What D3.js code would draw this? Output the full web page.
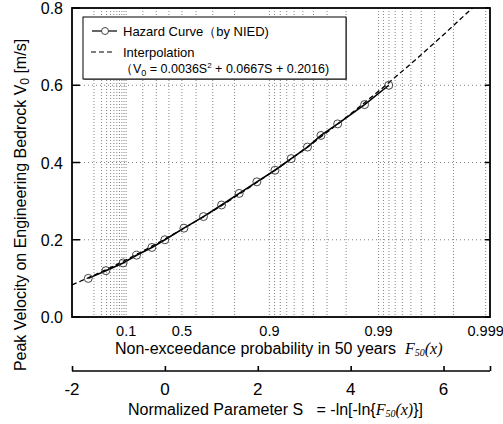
<!DOCTYPE html>
<html>
<head>
<meta charset="utf-8">
<script src="https://cdn.jsdelivr.net/npm/d3@7"></script>
<style>
  body { margin: 0; background: #fff; }
  svg { display: block; font-family: "Liberation Sans", Arial, sans-serif; }
</style>
</head>
<body>
<svg id="chart" width="503" height="424"></svg>
<script>
// hazard curve: S value and peak velocity V0
const hazardS = [-1.65, -1.27, -0.90, -0.61, -0.28, 0.00, 0.41, 0.83, 1.22, 1.60, 1.98, 2.37, 2.72, 3.07, 3.36, 3.72, 4.30, 4.82];
const hazardV = [0.10, 0.12, 0.14, 0.16, 0.18, 0.20, 0.23, 0.26, 0.29, 0.32, 0.35, 0.38, 0.41, 0.44, 0.47, 0.50, 0.55, 0.60];
// dashed interpolation line, read at a few S values
const interpS = [-2, -1, 0, 1, 2, 3, 4, 5, 6, 6.62];
const interpV = [0.083, 0.138, 0.202, 0.272, 0.350, 0.434, 0.526, 0.625, 0.731, 0.800];
// axis ticks
const yTicks = [0.0, 0.2, 0.4, 0.6, 0.8];
const sTicks = [-2, 0, 2, 4, 6];
const probLabels = [0.1, 0.5, 0.9, 0.99, 0.999];
const probGrid = [0.01, 0.02, 0.03, 0.04, 0.05, 0.06, 0.07, 0.08, 0.09, 0.1,
  0.2, 0.3, 0.4, 0.5, 0.6, 0.7, 0.8, 0.9,
  0.91, 0.92, 0.93, 0.94, 0.95, 0.96, 0.97, 0.98, 0.99,
  0.991, 0.992, 0.993, 0.994, 0.995, 0.996, 0.997, 0.998, 0.999];

const svg = d3.select("#chart");
const pLeft = 72, pRight = 490, pTop = 8, pBottom = 317;
const nb = "\u00a0";

const x = d3.scaleLinear().domain([-2, 7]).range([pLeft, pRight]);
const y = d3.scaleLinear().domain([0, 0.8]).range([pBottom, pTop]);
// probability -> normalized parameter S
const toS = p => -Math.log(-Math.log(p));

// grid
svg.append("g").selectAll("line").data(probGrid).enter().append("line")
  .attr("x1", d => x(toS(d))).attr("x2", d => x(toS(d)))
  .attr("y1", pTop).attr("y2", pBottom)
  .attr("stroke", "#666").attr("stroke-width", 0.8).attr("stroke-dasharray", "1,2");
svg.append("g").selectAll("line").data([0.2, 0.4, 0.6]).enter().append("line")
  .attr("x1", pLeft).attr("x2", pRight)
  .attr("y1", d => y(d)).attr("y2", d => y(d))
  .attr("stroke", "#666").attr("stroke-width", 0.8).attr("stroke-dasharray", "1,3");

// frame
svg.append("rect").attr("x", pLeft).attr("y", pTop)
  .attr("width", pRight - pLeft).attr("height", pBottom - pTop)
  .attr("fill", "none").attr("stroke", "#000").attr("stroke-width", 1.8);

// y ticks on both sides, pointing inward
const yg = svg.append("g");
yg.selectAll(".tl").data(yTicks).enter().append("line")
  .attr("x1", pLeft).attr("x2", pLeft + 8).attr("y1", d => y(d)).attr("y2", d => y(d))
  .attr("stroke", "#000").attr("stroke-width", 1.5);
yg.selectAll(".tr").data(yTicks).enter().append("line")
  .attr("x1", pRight - 5).attr("x2", pRight).attr("y1", d => y(d)).attr("y2", d => y(d))
  .attr("stroke", "#000").attr("stroke-width", 1.5);
yg.selectAll("text").data(yTicks).enter().append("text")
  .attr("x", pLeft - 9).attr("y", d => y(d) + 6)
  .attr("text-anchor", "end").attr("font-size", 16)
  .text(d => d3.format(".1f")(d));

// interpolation (dashed) and hazard curve
const interp = interpS.map((s, i) => [s, interpV[i]]);
svg.append("path").datum(interp)
  .attr("d", d3.line().x(d => x(d[0])).y(d => y(d[1])).curve(d3.curveMonotoneX))
  .attr("fill", "none").attr("stroke", "#000").attr("stroke-width", 1.3)
  .attr("stroke-dasharray", "5,3");

const hazard = hazardS.map((s, i) => [s, hazardV[i]]);
svg.append("path").datum(hazard)
  .attr("d", d3.line().x(d => x(d[0])).y(d => y(d[1])))
  .attr("fill", "none").attr("stroke", "#000").attr("stroke-width", 1.6);
svg.append("g").selectAll("circle").data(hazard).enter().append("circle")
  .attr("cx", d => x(d[0])).attr("cy", d => y(d[1])).attr("r", 4)
  .attr("fill", "none").attr("stroke", "#333").attr("stroke-width", 0.9);

// legend
const lg = svg.append("g");
lg.append("rect").attr("x", 84).attr("y", 18).attr("width", 263).attr("height", 62)
  .attr("fill", "#888");
lg.append("rect").attr("x", 83).attr("y", 17).attr("width", 263).attr("height", 62)
  .attr("fill", "#fff").attr("stroke", "#000").attr("stroke-width", 1);
lg.append("line").attr("x1", 92).attr("x2", 117).attr("y1", 31).attr("y2", 31)
  .attr("stroke", "#000").attr("stroke-width", 1.2);
lg.append("circle").attr("cx", 105).attr("cy", 31).attr("r", 3.5)
  .attr("fill", "#fff").attr("stroke", "#333").attr("stroke-width", 0.9);
lg.append("text").attr("x", 123).attr("y", 35.5).attr("font-size", 13)
  .text("Hazard Curve（by NIED)");
lg.append("line").attr("x1", 91).attr("x2", 115).attr("y1", 52).attr("y2", 52)
  .attr("stroke", "#000").attr("stroke-width", 1.2).attr("stroke-dasharray", "5,3");
lg.append("text").attr("x", 123).attr("y", 56.5).attr("font-size", 13)
  .text("Interpolation");
const ft = lg.append("text").attr("x", 120).attr("y", 73).attr("font-size", 12.5);
ft.append("tspan").text("（V");
ft.append("tspan").attr("font-size", 9).attr("dy", 3).text("0");
ft.append("tspan").attr("dy", -3).text(" = 0.0036S");
ft.append("tspan").attr("font-size", 8).attr("dy", -5).text("2");
ft.append("tspan").attr("dy", 5).text(" + 0.0667S + 0.2016)");

// probability labels under the frame
svg.append("g").selectAll("text").data(probLabels).enter().append("text")
  .attr("x", d => x(toS(d))).attr("y", 335.5)
  .attr("text-anchor", "middle").attr("font-size", 14.5)
  .text(d => d);
const pt = svg.append("text").attr("x", 115).attr("y", 354).attr("font-size", 16);
pt.append("tspan").text("Non-exceedance probability in 50 years" + nb + nb);
pt.append("tspan").attr("font-family", "Liberation Serif").attr("font-style", "italic").text("F");
pt.append("tspan").attr("font-family", "Liberation Serif").attr("font-style", "italic")
  .attr("font-size", 10).attr("dy", 2).text("50");
pt.append("tspan").attr("font-family", "Liberation Serif").attr("font-style", "italic")
  .attr("dy", -2).text("(x)");

// normalized parameter S axis
const sAxis = d3.axisTop(x).tickValues(sTicks.concat([7])).tickSize(5).tickFormat("");
const sg = svg.append("g").attr("transform", "translate(0,371)").call(sAxis);
sg.select(".domain").attr("stroke-width", 1.6).attr("d", `M${pLeft},0H${pRight}`);
sg.selectAll(".tick line").attr("stroke-width", 1.6);
svg.append("g").selectAll("text").data(sTicks).enter().append("text")
  .attr("x", d => x(d)).attr("y", 395)
  .attr("text-anchor", "middle").attr("font-size", 17)
  .text(d => d < 0 ? "-" + Math.abs(d) : d);
const st = svg.append("text").attr("x", 128).attr("y", 415).attr("font-size", 16);
st.append("tspan").text("Normalized Parameter S" + nb + nb + nb + "=" + nb + "-ln[-ln{");
st.append("tspan").attr("font-family", "Liberation Serif").attr("font-style", "italic").text("F");
st.append("tspan").attr("font-family", "Liberation Serif").attr("font-style", "italic")
  .attr("font-size", 10).attr("dy", 2).text("50");
st.append("tspan").attr("font-family", "Liberation Serif").attr("font-style", "italic")
  .attr("dy", -2).text("(x)");
st.append("tspan").text("}]");

// y axis title
const yt = svg.append("text").attr("transform", "translate(26,205) rotate(-90)")
  .attr("text-anchor", "middle").attr("font-size", 16);
yt.append("tspan").text("Peak Velocity on Engineering Bedrock V");
yt.append("tspan").attr("font-size", 12).attr("dy", 3).text("0");
yt.append("tspan").attr("dy", -3).text(" [m/s]");
</script>
</body>
</html>
